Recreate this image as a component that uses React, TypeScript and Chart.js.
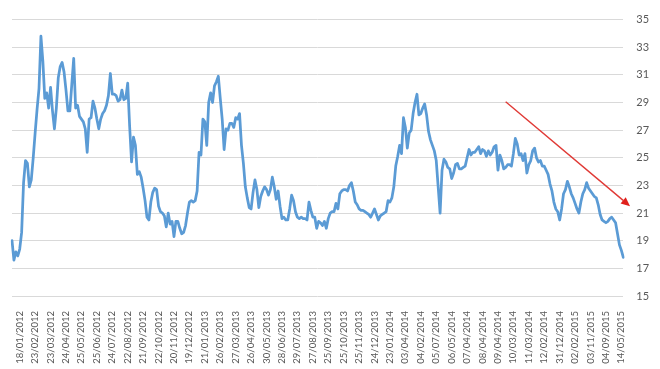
import React, { useEffect, useRef } from "react";
import { Chart, registerables } from "chart.js";

Chart.register(...registerables);

const tickLabels = [
  "18/01/2012", "23/02/2012", "23/03/2012", "24/04/2012", "25/05/2012", "25/06/2012",
  "24/07/2012", "22/08/2012", "21/09/2012", "22/10/2012", "20/11/2012", "19/12/2012",
  "21/01/2013", "26/02/2013", "27/03/2013", "26/04/2013", "30/05/2013", "28/06/2013",
  "29/07/2013", "27/08/2013", "25/09/2013", "25/10/2013", "25/11/2013", "24/12/2013",
  "23/01/2014", "03/04/2014", "04/02/2014", "05/07/2014", "06/05/2014", "07/04/2014",
  "08/04/2014", "09/04/2014", "10/03/2014", "11/03/2014", "12/02/2014", "31/12/2014",
  "02/02/2015", "03/11/2015", "04/09/2015", "14/05/2015",
];

// every 8th sample carries a date label, first one at sample 4
const firstLabelIndex = 4;
const labelEvery = 8;

const values = [
  19.0, 17.6, 18.2, 17.9, 18.4, 19.6, 23.2, 24.8, 24.6, 22.9,
  23.4, 25.0, 26.8, 28.5, 30.0, 33.8, 32.0, 29.3, 29.7, 28.6,
  30.1, 28.4, 27.1, 28.6, 30.8, 31.6, 31.9, 31.2, 29.9, 28.4,
  28.4, 30.3, 32.2, 28.6, 28.8, 28.0, 27.8, 27.6, 27.1, 25.4,
  27.8, 27.9, 29.1, 28.6, 27.8, 27.1, 27.8, 28.2, 28.4, 28.8,
  29.5, 31.1, 29.6, 29.6, 29.5, 29.1, 29.2, 29.9, 29.2, 29.3,
  30.4, 27.3, 24.7, 26.5, 25.9, 23.8, 24.0, 23.6, 22.8, 21.9,
  20.7, 20.5, 21.8, 22.5, 22.8, 22.7, 21.5, 21.1, 21.0, 20.8,
  20.0, 21.0, 20.2, 20.4, 19.3, 20.4, 20.4, 19.9, 19.5, 19.6,
  20.1, 21.0, 21.8, 21.9, 21.8, 21.9, 22.6, 25.4, 25.2, 27.8,
  27.6, 25.9, 29.0, 29.7, 29.0, 30.2, 30.5, 30.9, 29.3, 27.8,
  25.6, 27.1, 27.0, 27.5, 27.5, 27.2, 27.9, 27.8, 28.2, 25.9,
  24.6, 22.9, 22.1, 21.4, 21.3, 22.5, 23.4, 22.7, 21.4, 22.2,
  22.6, 22.9, 22.7, 22.3, 22.7, 23.6, 22.9, 22.0, 22.6, 21.5,
  20.6, 20.7, 20.5, 20.5, 21.3, 22.3, 21.9, 21.1, 20.7, 20.6,
  20.7, 20.6, 20.6, 20.5, 21.8, 21.2, 20.7, 20.7, 19.9, 20.4,
  20.3, 20.1, 20.4, 19.9, 20.6, 21.0, 21.1, 21.1, 21.7, 21.3,
  22.4, 22.6, 22.7, 22.7, 22.6, 23.0, 23.2, 22.6, 21.8, 21.6,
  21.3, 21.2, 21.2, 21.1, 21.0, 20.9, 20.7, 21.0, 21.3, 20.9,
  20.5, 20.8, 20.9, 21.0, 21.1, 21.9, 21.8, 22.1, 22.9, 24.4,
  25.1, 25.9, 25.3, 27.9, 27.2, 25.7, 26.8, 27.0, 28.2, 29.0,
  29.6, 28.1, 28.2, 28.6, 28.9, 28.1, 26.9, 26.3, 25.9, 25.5,
  24.8, 22.9, 21.0, 24.1, 24.9, 24.7, 24.3, 24.2, 23.5, 23.9,
  24.5, 24.6, 24.2, 24.2, 24.3, 24.4, 25.0, 25.6, 25.2, 25.4,
  25.4, 25.6, 25.8, 25.3, 25.6, 25.5, 25.1, 25.5, 25.2, 25.4,
  25.8, 25.9, 24.1, 25.2, 24.8, 24.2, 24.3, 24.5, 24.5, 24.4,
  25.3, 26.4, 26.0, 25.2, 25.3, 24.8, 25.3, 23.9, 24.5, 24.8,
  25.5, 25.7, 25.0, 24.7, 24.8, 24.4, 24.4, 24.1, 23.8, 23.1,
  22.6, 21.8, 21.3, 21.1, 20.5, 21.3, 22.4, 22.7, 23.3, 22.9,
  22.4, 22.1, 21.7, 21.3, 21.0, 21.8, 22.4, 22.7, 23.2, 22.8,
  22.6, 22.4, 22.2, 22.1, 21.6, 20.9, 20.5, 20.4, 20.3, 20.4,
  20.6, 20.7, 20.5, 20.3, 19.5, 18.7, 18.3, 17.8,
];

// trend arrow annotation, in data units: [sample index, value]
const arrowFrom = [256, 29.05];
const arrowTo = [320.5, 21.5];

const yMin = 15;
const yMax = 35;
const yStep = 2;

const labels = values.map((_, i) =>
  i >= firstLabelIndex && (i - firstLabelIndex) % labelEvery === 0
    ? tickLabels[(i - firstLabelIndex) / labelEvery] ?? ""
    : ""
);

const arrowPlugin = {
  id: "trendArrow",
  afterDatasetsDraw(chart: any) {
    const { ctx, scales } = chart;
    const xs = scales.x;
    const ys = scales.y;
    const x1 = xs.getPixelForValue(arrowFrom[0]);
    const y1 = ys.getPixelForValue(arrowFrom[1]);
    const x2 = xs.getPixelForValue(arrowTo[0]);
    const y2 = ys.getPixelForValue(arrowTo[1]);
    const ang = Math.atan2(y2 - y1, x2 - x1);
    const headLen = 9;
    const headHalf = 4;
    const bx = x2 - headLen * Math.cos(ang);
    const by = y2 - headLen * Math.sin(ang);
    ctx.save();
    ctx.strokeStyle = "#e03a36";
    ctx.fillStyle = "#e0201c";
    ctx.lineWidth = 1.4;
    ctx.beginPath();
    ctx.moveTo(x1, y1);
    ctx.lineTo(bx, by);
    ctx.stroke();
    ctx.beginPath();
    ctx.moveTo(x2, y2);
    ctx.lineTo(bx + headHalf * Math.sin(ang), by - headHalf * Math.cos(ang));
    ctx.lineTo(bx - headHalf * Math.sin(ang), by + headHalf * Math.cos(ang));
    ctx.closePath();
    ctx.fill();
    ctx.restore();
  },
};

export default function App() {
  const ref = useRef<HTMLCanvasElement | null>(null);

  useEffect(() => {
    document.body.style.margin = "0";
    if (!ref.current) return;
    Chart.defaults.font.family = "Lato";
    const chart = new Chart(ref.current, {
      type: "line",
      data: {
        labels,
        datasets: [
          {
            data: values,
            borderColor: "#5b9bd5",
            borderWidth: 2.75,
            pointRadius: 0,
            tension: 0,
            borderJoinStyle: "round",
            borderCapStyle: "round",
            fill: false,
          },
        ],
      },
      options: {
        animation: false,
        responsive: false,
        layout: { padding: { left: 12, top: 15, right: 0, bottom: 0 } },
        plugins: {
          legend: { display: false },
          tooltip: { enabled: false },
        },
        scales: {
          x: {
            type: "category",
            offset: false,
            grid: { display: false },
            border: { display: false },
            ticks: {
              autoSkip: false,
              minRotation: 90,
              maxRotation: 90,
              padding: 7,
              color: "#595959",
              font: { family: "Lato", size: 9.5 },
            },
            afterFit: (s: any) => {
              s.height = 73;
            },
          },
          y: {
            position: "right",
            min: yMin,
            max: yMax,
            grid: { color: "#d9d9d9", lineWidth: 1, drawTicks: false },
            border: { display: false },
            ticks: {
              stepSize: yStep,
              padding: 13,
              color: "#595959",
              font: { family: "Lato", size: 11 },
            },
            afterFit: (s: any) => {
              s.width = 36.7;
            },
          },
        },
      },
      plugins: [arrowPlugin],
    });
    return () => chart.destroy();
  }, []);

  return (
    <div style={{ width: 660, height: 369 }}>
      <canvas ref={ref} width={660} height={369} style={{ display: "block" }} />
    </div>
  );
}
